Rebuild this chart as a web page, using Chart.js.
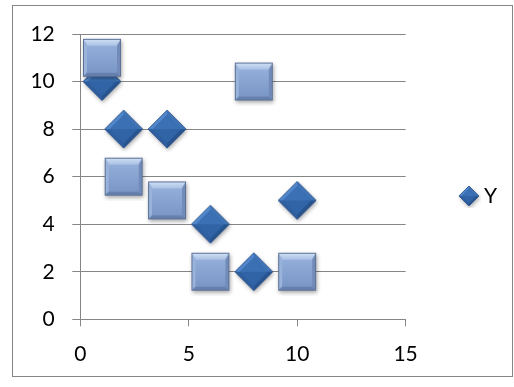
<!DOCTYPE html>
<html>
<head>
<meta charset="utf-8">
<script src="https://cdn.jsdelivr.net/npm/chart.js@4.4.1/dist/chart.umd.min.js"></script>
<style>
  html, body { margin: 0; padding: 0; background: #fff; }
  #wrap { position: relative; width: 514px; height: 387px; }
  #chart { position: absolute; left: 0; top: 0; }
  #frame {
    position: absolute; left: 12px; top: 5px; width: 501px; height: 372px;
    box-sizing: border-box; border: 1px solid #868686; pointer-events: none;
  }
</style>
</head>
<body>
<div id="wrap">
  <canvas id="chart" width="514" height="387"></canvas>
  <div id="frame"></div>
</div>
<script>
// Data
const xValues = [1, 2, 4, 6, 8, 10];
const yValues = [10, 8, 8, 4, 2, 5];
const y2Values = [11, 6, 5, 2, 10, 2];
const xTicks = [0, 5, 10, 15];
const yTicks = [0, 2, 4, 6, 8, 10, 12];
const seriesNames = ['Y', 'Y2'];

const FONT = 'Lato, "DejaVu Sans", sans-serif';
const GRID = '#868686';

function poly(g, pts, fill) {
  g.beginPath();
  g.moveTo(pts[0][0], pts[0][1]);
  for (let i = 1; i < pts.length; i++) g.lineTo(pts[i][0], pts[i][1]);
  g.closePath();
  g.fillStyle = fill;
  g.fill();
}

// Bevelled square marker
function makeSquare(s) {
  const pad = 5;
  const c = document.createElement('canvas');
  c.width = c.height = s + pad * 2;
  const g = c.getContext('2d');
  const x0 = pad, y0 = pad, x1 = pad + s, y1 = pad + s;
  g.save();
  g.shadowColor = 'rgba(0,0,0,0.35)';
  g.shadowBlur = 4; g.shadowOffsetX = 1; g.shadowOffsetY = 2;
  g.fillStyle = '#7a96c4';
  g.fillRect(x0, y0, s, s);
  g.restore();
  const bt = 7, bl = 4, br = 4, bb = 4;
  let gr = g.createLinearGradient(0, y0, 0, y0 + bt);
  gr.addColorStop(0, '#d3e2f6'); gr.addColorStop(1, '#a9c1e5');
  poly(g, [[x0, y0], [x1, y0], [x1 - br, y0 + bt], [x0 + bl, y0 + bt]], gr);
  poly(g, [[x0, y0], [x0 + bl, y0 + bt], [x0 + bl, y1 - bb], [x0, y1]], '#99b3db');
  poly(g, [[x1, y0], [x1, y1], [x1 - br, y1 - bb], [x1 - br, y0 + bt]], '#728bb9');
  poly(g, [[x0, y1], [x0 + bl, y1 - bb], [x1 - br, y1 - bb], [x1, y1]], '#6680ad');
  gr = g.createLinearGradient(0, y0 + bt, 0, y1 - bb);
  gr.addColorStop(0, '#93aed9'); gr.addColorStop(1, '#7b97c7');
  g.fillStyle = gr;
  g.fillRect(x0 + bl, y0 + bt, s - bl - br, s - bt - bb);
  g.strokeStyle = '#5b7196';
  g.lineWidth = 1;
  g.strokeRect(x0 + 0.5, y0 + 0.5, s - 1, s - 1);
  return c;
}

// Bevelled diamond marker
function makeDiamond(r, bev, pad) {
  const c = document.createElement('canvas');
  c.width = c.height = (r + pad) * 2;
  const g = c.getContext('2d');
  const cx = r + pad, cy = r + pad;
  const L = [cx - r, cy], T = [cx, cy - r], R = [cx + r, cy], B = [cx, cy + r];
  const q = r - bev;
  const l = [cx - q, cy], t = [cx, cy - q], rr = [cx + q, cy], b = [cx, cy + q];
  g.save();
  g.shadowColor = 'rgba(0,0,0,0.35)';
  g.shadowBlur = 4; g.shadowOffsetX = 1; g.shadowOffsetY = 2;
  poly(g, [L, T, R, B], '#2f62a3');
  g.restore();
  poly(g, [L, T, t, l], '#5087ca');
  poly(g, [T, R, rr, t], '#3f74b7');
  poly(g, [R, B, b, rr], '#27538e');
  poly(g, [B, L, l, b], '#2e5e9e');
  poly(g, [l, t, rr], '#3b70b4');
  poly(g, [l, rr, b], '#3064a6');
  g.beginPath();
  g.moveTo(L[0], L[1]); g.lineTo(T[0], T[1]); g.lineTo(R[0], R[1]); g.lineTo(B[0], B[1]);
  g.closePath();
  g.strokeStyle = '#2b5189';
  g.lineWidth = 0.8;
  g.stroke();
  return c;
}

const squareMark = makeSquare(38);
const diamondMark = makeDiamond(19, 5, 5);
const legendDiamond = makeDiamond(10, 3, 2);

const toPoints = (xs, ys) => xs.map((x, i) => ({ x: x, y: ys[i] }));

new Chart(document.getElementById('chart'), {
  type: 'scatter',
  data: {
    datasets: [
      {
        label: seriesNames[0],
        data: toPoints(xValues, yValues),
        pointStyle: diamondMark,
        backgroundColor: '#3a6db0',
        order: 2
      },
      {
        label: seriesNames[1],
        data: toPoints(xValues, y2Values),
        pointStyle: squareMark,
        backgroundColor: '#7f9bc9',
        order: 1
      }
    ]
  },
  options: {
    responsive: false,
    animation: false,
    events: [],
    clip: false,
    layout: { padding: { top: 10.5, left: 12, right: 7, bottom: 5.5 } },
    scales: {
      x: {
        type: 'linear',
        min: xTicks[0],
        max: xTicks[xTicks.length - 1],
        afterBuildTicks: s => { s.ticks = xTicks.map(v => ({ value: v })); },
        ticks: { color: '#000', font: { family: FONT, size: 21 }, padding: 15, maxRotation: 0 },
        grid: { drawOnChartArea: false, color: GRID, tickLength: 7 },
        border: { color: GRID }
      },
      y: {
        min: yTicks[0],
        max: yTicks[yTicks.length - 1],
        afterBuildTicks: s => { s.ticks = yTicks.map(v => ({ value: v })); },
        afterFit: s => { s.width = 68.3; s.paddingTop = 34; },
        ticks: { color: '#000', font: { family: FONT, size: 21 }, padding: 17.5 },
        grid: { color: GRID, tickLength: 8 },
        border: { color: GRID }
      }
    },
    plugins: {
      tooltip: { enabled: false },
      legend: {
        position: 'right',
        labels: {
          usePointStyle: true,
          pointStyleWidth: 9,
          padding: 58.8,
          color: '#000',
          font: { family: FONT, size: 21 },
          filter: item => item.datasetIndex === 0,
          generateLabels: chart => Chart.defaults.plugins.legend.labels.generateLabels(chart)
            .map(item => Object.assign(item, { pointStyle: legendDiamond }))
        }
      }
    }
  }
});
</script>
</body>
</html>
